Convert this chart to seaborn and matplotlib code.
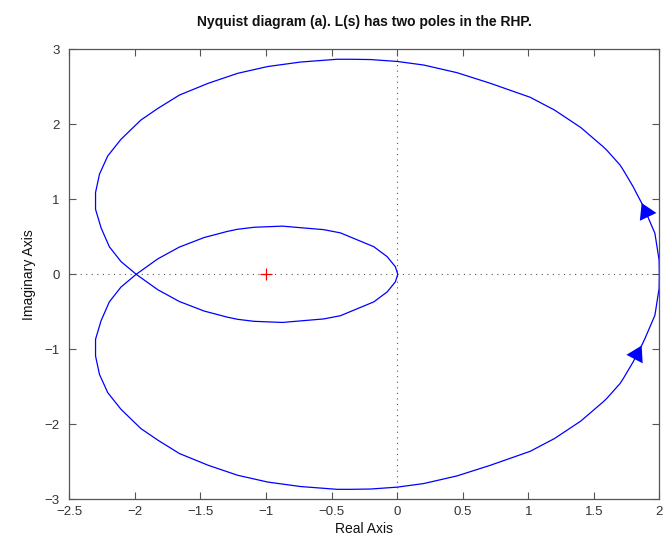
import matplotlib
matplotlib.use("Agg")
import matplotlib.pyplot as plt
import seaborn as sns
import numpy as np
import pandas as pd

# Points, positive-frequency branch
# (outer upper arc from (2,0) to the crossing at (-2,0), then inner lower loop to origin)
branch_re = [2.0, 1.998, 1.966, 1.89, 1.865, 1.826, 1.80, 1.725, 1.70, 1.598, 1.572,
             1.40, 1.20, 1.015, 0.71, 0.457, 0.203, 0.0, -0.203, -0.355, -0.457, -0.736,
             -0.987, -1.215, -1.44, -1.66, -1.826, -1.954, -2.106, -2.207, -2.27, -2.30,
             -2.30, -2.258, -2.195, -2.106, -1.99,
             -1.826, -1.662, -1.472, -1.294, -1.218, -1.091, -0.875, -0.559, -0.432,
             -0.33, -0.178, -0.076, -0.013, 0.005]
branch_im = [0.0, 0.19, 0.547, 0.857, 0.95, 1.08, 1.168, 1.39, 1.457, 1.657, 1.70,
             1.958, 2.19, 2.36, 2.547, 2.688, 2.79, 2.838, 2.863, 2.867, 2.867, 2.83,
             2.77, 2.68, 2.547, 2.39, 2.21, 2.057, 1.80, 1.578, 1.335, 1.09,
             0.866, 0.62, 0.368, 0.17, 0.0,
             -0.205, -0.362, -0.49, -0.572, -0.60, -0.627, -0.642, -0.595, -0.552,
             -0.478, -0.368, -0.235, -0.10, 0.0]
arrow_idx = 4  # index of arrow tip on the branch
critical_point = (-1.0, 0.0)

xticks = [-2.5, -2, -1.5, -1, -0.5, 0, 0.5, 1, 1.5, 2]
yticks = [-3, -2, -1, 0, 1, 2, 3]
title = "Nyquist diagram (a). L(s) has two poles in the RHP."

sns.set_style("white")
plt.rcParams['font.family'] = ['Liberation Sans', 'DejaVu Sans']
plt.rcParams['axes.unicode_minus'] = True

fig = plt.figure(figsize=(6.64, 5.47), dpi=100)
ax = fig.add_axes([0.1044, 0.0872, 0.8886, 0.8227])

re = np.array(branch_re)
im = np.array(branch_im)
pos = pd.DataFrame({"re": re, "im": im})
neg = pd.DataFrame({"re": re[::-1], "im": -im[::-1]})

blue = (0, 0, 1)
sns.lineplot(data=pos, x="re", y="im", sort=False, estimator=None, color=blue, lw=0.9, ax=ax)
sns.lineplot(data=neg, x="re", y="im", sort=False, estimator=None, color=blue, lw=0.9, ax=ax)

# arrows
ap = dict(arrowstyle="-|>,head_length=0.55,head_width=0.33", color=blue, lw=0.0,
          shrinkA=0, shrinkB=0, mutation_scale=20)
ax.annotate("", xy=(re[arrow_idx], im[arrow_idx]), xytext=(re[arrow_idx - 1], im[arrow_idx - 1]),
            arrowprops=ap)
ax.annotate("", xy=(re[arrow_idx], -im[arrow_idx]), xytext=(re[arrow_idx + 1], -im[arrow_idx + 1]),
            arrowprops=ap)

# zero lines
ax.axhline(0, color="#555555", ls=(0, (1, 4)), lw=0.8, zorder=0)
ax.axvline(0, color="#555555", ls=(0, (1, 4)), lw=0.8, zorder=0)

ax.plot([critical_point[0]], [critical_point[1]], marker="+", color="red", ms=9, mew=0.9, ls="none")

ax.set_xlim(-2.5, 2)
ax.set_ylim(-3, 3)
ax.set_xticks(xticks)
ax.set_yticks(yticks)
ax.set_xticklabels([("%g" % t).replace("-", "\u2212") for t in xticks])
ax.set_yticklabels([("%g" % t).replace("-", "\u2212") for t in yticks])
ax.tick_params(direction="in", length=5, width=0.8, colors="#555555", labelcolor="#333333",
               labelsize=9.5, top=True, right=True, bottom=True, left=True)
ax.tick_params(axis="x", pad=5)
ax.tick_params(axis="y", pad=7)
for s in ax.spines.values():
    s.set_color("#555555")
    s.set_linewidth(0.9)

ax.set_xlabel("Real Axis", fontsize=10, color="#111111", labelpad=3)
ax.set_ylabel("Imaginary Axis", fontsize=10, color="#111111", labelpad=6)
ax.set_title(title, fontsize=10, fontweight="bold", color="#111111", pad=17)

fig.savefig("out.png", dpi=100)
